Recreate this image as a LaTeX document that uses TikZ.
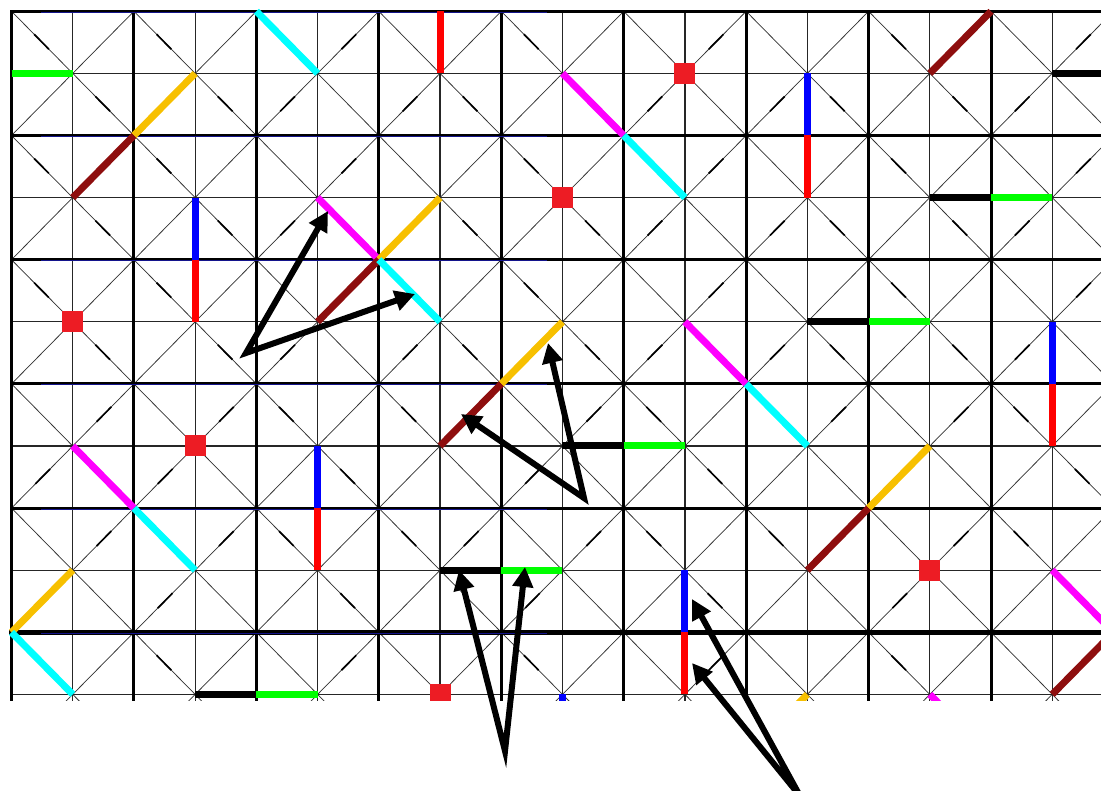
\documentclass[tikz,border=0pt]{standalone}
\usetikzlibrary{arrows.meta,calc}
\definecolor{cgreen}{RGB}{0,255,0}
\definecolor{cyellow}{RGB}{247,192,0}
\definecolor{cbrown}{RGB}{142,14,14}
\definecolor{ccyan}{RGB}{0,255,255}
\definecolor{cred}{RGB}{255,0,0}
\definecolor{cmag}{RGB}{255,0,255}
\definecolor{cblue}{RGB}{0,0,255}
\definecolor{csq}{RGB}{237,28,36}
\definecolor{navyc}{RGB}{20,20,140}
\begin{document}
\begin{tikzpicture}[x=1pt,y=-1pt,
  diagline/.style={line width=0.75pt, black!80},
  gridthin/.style={line width=1.3pt, black!85},
  gridthick/.style={line width=3pt, black, line cap=rect},
  navyline/.style={line width=0.9pt, navyc},
  dashmark/.style={line width=1.7pt, black},
  seg/.style={line width=7pt},
  sq/.style={fill=csq, draw=none, minimum size=21pt, inner sep=0pt},
  arr/.style={line width=6pt, line join=miter,
    {Triangle[length=20pt,width=20pt]}-{Triangle[length=20pt,width=20pt]}}]
\useasboundingbox (0,0) rectangle (1101,791);
\def\xo{11.5}\def\dx{61.22}\def\yo{11.3}\def\dy{62.1}
\foreach \i in {0,...,18}{\foreach \j in {0,...,12}{
  \coordinate (p-\i-\j) at ({\xo+\dx*\i},{\yo+\dy*\j});}}
\begin{scope}
\clip (0,0) rectangle (1101,700);
% diagonals of the big squares
\foreach \I in {0,...,8}{\foreach \J in {0,...,5}{
  \pgfmathtruncatemacro\a{2*\I}\pgfmathtruncatemacro\b{2*\J}
  \pgfmathtruncatemacro\c{2*\I+2}\pgfmathtruncatemacro\d{2*\J+2}
  \draw[diagline] (p-\a-\b) -- (p-\c-\d);
  \draw[diagline] (p-\c-\b) -- (p-\a-\d);}}
% thin grid lines
\foreach \i in {1,3,...,17} \draw[gridthin] (p-\i-0) -- (p-\i-12);
\foreach \j in {1,3,...,11} \draw[gridthin] (p-0-\j) -- (p-18-\j);
% thick grid lines
\foreach \i in {0,2,...,18} \draw[gridthick] (p-\i-0) -- (p-\i-12);
\foreach \j in {0,2,...,8} \draw[gridthick] (p-0-\j) -- (p-18-\j);
\draw[gridthick, line width=4.5pt] (p-0-10) -- (p-18-10);
\foreach \j in {0,2,...,10} \draw[navyline] (41,{\yo+\dy*\j+1.0}) -- (547,{\yo+\dy*\j+1.0});
% short dashes on the diagonals
\foreach \j/\lst in {0/{0,2,5,8,11,14,17},1/{1,3,4,6,7,10,12,13,15,16},
  2/{0,2,5,8,11,14,17},3/{1,3,4,7,9,10,12,13,15,16},4/{0,2,5,8,11,14,17},
  5/{1,3,4,6,7,9,10,12,13,15,16},6/{1,3,4,6,7,9,10,12,13,15,16},
  7/{0,2,5,8,11,14,17},8/{1,3,4,6,7,9,10,12,13,15,16},
  9/{0,2,5,8,11,14,17},10/{0,2,5,8,11,14,17}}{
  \foreach \i in \lst {
    \pgfmathtruncatemacro\ii{\i+1}\pgfmathtruncatemacro\jj{\j+1}
    \pgfmathtruncatemacro\pp{mod(\i+\j,2)}
    \ifnum\pp=0
      \draw[dashmark] ($(p-\i-\j)!0.37!(p-\ii-\jj)$) -- ($(p-\i-\j)!0.61!(p-\ii-\jj)$);
    \else
      \draw[dashmark] ($(p-\ii-\j)!0.37!(p-\i-\jj)$) -- ($(p-\ii-\j)!0.61!(p-\i-\jj)$);
    \fi}}
% coloured segments
\draw[seg,cgreen] (p-0-1) -- (p-1-1);
\draw[seg,cyellow] (p-2-2) -- (p-3-1);
\draw[seg,cbrown] (p-1-3) -- (p-2-2);
\draw[seg,ccyan] (p-4-0) -- (p-5-1);
\draw[seg,cred] (p-7-0) -- (p-7-1);
\draw[seg,cmag] (p-9-1) -- (p-10-2);
\draw[seg,ccyan] (p-10-2) -- (p-11-3);
\draw[seg,cblue] (p-13-1) -- (p-13-2);
\draw[seg,cred] (p-13-2) -- (p-13-3);
\draw[seg,cbrown] (p-15-1) -- (p-16-0);
\draw[seg,black] (p-17-1) -- (p-18-1);
\draw[seg,black] (p-15-3) -- (p-16-3);
\draw[seg,cgreen] (p-16-3) -- (p-17-3);
\draw[seg,cblue] (p-3-3) -- (p-3-4);
\draw[seg,cred] (p-3-4) -- (p-3-5);
\draw[seg,cmag] (p-5-3) -- (p-6-4);
\draw[seg,cyellow] (p-6-4) -- (p-7-3);
\draw[seg,cbrown] (p-5-5) -- (p-6-4);
\draw[seg,ccyan] (p-6-4) -- (p-7-5);
\draw[seg,cyellow] (p-8-6) -- (p-9-5);
\draw[seg,cmag] (p-11-5) -- (p-12-6);
\draw[seg,ccyan] (p-12-6) -- (p-13-7);
\draw[seg,black] (p-13-5) -- (p-14-5);
\draw[seg,cgreen] (p-14-5) -- (p-15-5);
\draw[seg,cblue] (p-17-5) -- (p-17-6);
\draw[seg,cred] (p-17-6) -- (p-17-7);
\draw[seg,cbrown] (p-7-7) -- (p-8-6);
\draw[seg,black] (p-9-7) -- (p-10-7);
\draw[seg,cgreen] (p-10-7) -- (p-11-7);
\draw[seg,cmag] (p-1-7) -- (p-2-8);
\draw[seg,ccyan] (p-2-8) -- (p-3-9);
\draw[seg,cblue] (p-5-7) -- (p-5-8);
\draw[seg,cred] (p-5-8) -- (p-5-9);
\draw[seg,cyellow] (p-14-8) -- (p-15-7);
\draw[seg,cbrown] (p-13-9) -- (p-14-8);
\draw[seg,cmag] (p-17-9) -- (p-18-10);
\draw[seg,cbrown] (p-17-11) -- (p-18-10);
\draw[seg,cyellow] (p-0-10) -- (p-1-9);
\draw[seg,ccyan] (p-0-10) -- (p-1-11);
\draw[seg,black] (p-7-9) -- (p-8-9);
\draw[seg,cgreen] (p-8-9) -- (p-9-9);
\draw[seg,cblue] (p-11-9) -- (p-11-10);
\draw[seg,cred] (p-11-10) -- (p-11-11);
\draw[seg,black] (p-3-11) -- (p-4-11);
\draw[seg,cgreen] (p-4-11) -- (p-5-11);
\draw[seg,cblue] (p-9-11) -- (p-9-12);
\draw[seg,cyellow] (p-12-12) -- (p-13-11);
\draw[seg,cmag] (p-15-11) -- (p-16-12);
% red squares
\node[sq] (s1) at (p-11-1) {};
\node[sq] (s2) at (p-9-3) {};
\node[sq] (s3) at (p-1-5) {};
\node[sq] (s4) at (p-3-7) {};
\node[sq] (s5) at (p-15-9) {};
\node[sq] (s6) at (p-7-11) {};
\end{scope}
% arrows
\coordinate (o1) at (246,353);
\coordinate (t1a) at (328,211);
\coordinate (t1b) at (415,294);
\coordinate (o2) at (584,498);
\coordinate (t2a) at (548,343);
\coordinate (t2b) at (461,414);
\coordinate (o3) at (505,751);
\coordinate (t3a) at (459,570);
\coordinate (t3b) at (525,567);
\coordinate (o4) at (800,796);
\coordinate (t4a) at (692,599);
\coordinate (t4b) at (692,663);
\draw[arr] (t1a) -- (o1) -- (t1b);
\draw[arr] (t2a) -- (o2) -- (t2b);
\draw[arr] (t3a) -- (o3) -- (t3b);
\draw[arr] (t4a) -- (o4) -- (t4b);
\end{tikzpicture}
\end{document}
